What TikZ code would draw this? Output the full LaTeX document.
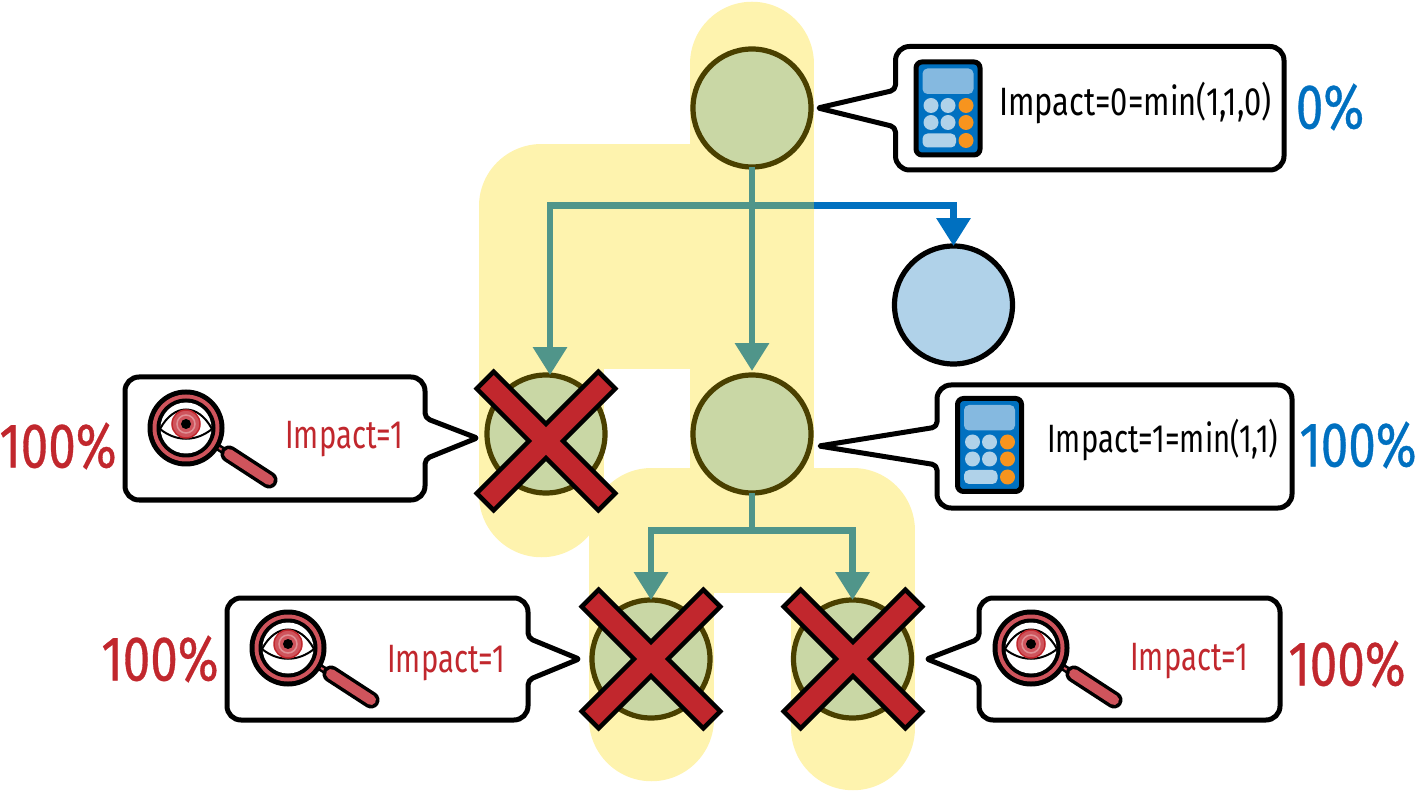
\documentclass[tikz,border=0pt]{standalone}
\usepackage{fontspec}
\setmainfont{Fira Sans}[FakeStretch=0.78]
\newfontfamily\narrowfont{Fira Sans}[FakeStretch=0.74]
\newfontfamily\sharefont{Fira Sans}[FakeStretch=0.78,FakeBold=0.5]
\usepackage{tikz}
\usetikzlibrary{arrows.meta}

\def\px{0.02cm}
\definecolor{hlyellow}{HTML}{FEF3AE}
\definecolor{nodegreen}{HTML}{C9D7A5}
\definecolor{nodeedge}{HTML}{4A4000}
\definecolor{nodeblue}{HTML}{B0D2E9}
\definecolor{linkteal}{HTML}{50958A}
\definecolor{linkblue}{HTML}{0070C0}
\definecolor{crossred}{HTML}{C1272D}
\definecolor{lensred}{HTML}{CF545C}
\definecolor{screenblue}{HTML}{85B9E0}
\definecolor{keyorange}{HTML}{F7941E}

\tikzset{
	hl/.style={draw=hlyellow, line width=124.5*\px, line cap=round, line join=round}
	,g/.style={circle, draw=nodeedge, fill=nodegreen, line width=5.2*\px, minimum size=118*\px, inner sep=0pt, outer sep=0pt}
	,u/.style={g, draw=black, fill=nodeblue}
	,link/.style={draw=linkteal, line width=6.5*\px, -{Triangle[length=0.56cm,width=0.66cm]}}
	,bluelink/.style={link, draw=linkblue, -{Triangle[length=0.56cm,width=0.66cm,fill=linkblue]}}
	,bubble/.style={draw=black, fill=white, line width=5*\px, line join=round, rounded corners=14*\px}
	,impact/.style={anchor=base west, inner sep=0pt, font=\fontsize{22.5}{25}\selectfont}
	,impactone/.style={impact, font=\narrowfont\fontsize{22.5}{25}\selectfont}
	,share/.style={inner sep=0pt, font=\sharefont\fontsize{36}{39}\selectfont}
	,pics/xmark/.style={code={
		\draw[rotate=45, fill=crossred, draw=black, line width=4.5*\px, miter limit=4]
			(-86,-12) -- (-12,-12) -- (-12,-86) -- (12,-86) -- (12,-12) -- (86,-12)
			-- (86,12) -- (12,12) -- (12,86) -- (-12,86) -- (-12,12) -- (-86,12) -- cycle;
	}}
	,pics/calcicon/.style={code={
		\draw[fill=linkblue, draw=black, line width=5*\px, rounded corners=6*\px] (-32,-46.5) rectangle (32,46.5);
		\fill[screenblue, rounded corners=5*\px] (-25.5,-40) rectangle (25.5,-14.5);
		\foreach \cx in {-17,0}
			\foreach \cy in {-3,14}
				\fill[nodeblue] (\cx,\cy) circle (7.5);
		\foreach \cy in {-3,14,32}
			\fill[keyorange] (18,\cy) circle (7.5);
		\fill[nodeblue, rounded corners=5*\px] (-25.5,25) rectangle (8,39);
	}}
	,pics/lensicon/.style={code={
		\draw[line width=7*\px] (24,14) -- (41,25);
		\draw[lensred, line width=2*\px] (30,18) -- (41,25);
		\draw[line width=17*\px, line cap=round] (43,26) -- (83,52);
		\draw[lensred, line width=10*\px, line cap=round] (43,26) -- (83,52);
		\fill[black] (0,0) circle (38.5);
		\fill[lensred] (0,0) circle (33.5);
		\fill[black] (0,0) circle (29.5);
		\fill[white] (0,0) circle (25.5);
		\draw[line width=2*\px] (-26,1) .. controls (-12,-25) and (12,-25) .. (26,1);
		\draw[line width=2*\px] (-26,1) .. controls (-10,14) and (10,14) .. (26,1);
		\fill[lensred, draw=crossred, line width=1.5*\px] (0,-4) circle (14);
		\draw[white!35!lensred, line width=1.5*\px] (0,-4) circle (9);
		\fill[black] (0,-4) circle (5);
	}}
}

\begin{document}
\begin{tikzpicture}[x=0.02cm, y=-0.02cm]
	\useasboundingbox (0,0) rectangle (1416,793);

	% highlighted paths
	\draw[hl] (752,64) -- (752,530.5);
	\draw[hl] (752,206) -| (541.5,495);
	\fill[hlyellow] (541.5,206) rectangle (690,369);
	\draw[hl] (752,530.5) -| (651.5,719);
	\draw[hl] (752,530.5) -| (853,728);

	% tree
	\node [g] (root) at (752,108) {};
	\node [u] (clean) at (953.5,305) {};
	\node [g] (left) at (546,434) {};
	\node [g] (mid) at (752,434) {};
	\node [g] (lowl) at (651,659) {};
	\node [g] (lowr) at (852.5,659) {};

	\coordinate (turn) at (814,205.5);
	\coordinate (fork) at (752,530.5);
	\coordinate (lefttip) at (550,375);
	\coordinate (midtip) at (752,371);

	\draw[bluelink] (turn) -| (clean.north);
	\draw[link] (root.south) -- (midtip);
	\draw[link] (turn) -| (lefttip);
	\draw[link] (mid.south) -- (fork) -| (lowl.north);
	\draw[link] (fork) -| (lowr.north);

	% crosses
	\pic (xleft) at (546,441) {xmark};
	\pic (xlowl) at (651,659) {xmark};
	\pic (xlowr) at (853,659) {xmark};

	% callouts
	\draw[bubble] (895.5,46.5) -- (1284,46.5) -- (1284,170) -- (895.5,170) [rounded corners=5*\px] -- (895.5,127)
		[rounded corners=2*\px] -- (818,108) [rounded corners=5*\px] -- (895.5,90) [rounded corners=14*\px] -- cycle;
	\draw[bubble] (125,377) -- (425,377) [rounded corners=5*\px] -- (425,418)
		[rounded corners=2*\px] -- (477,438) [rounded corners=5*\px] -- (425,459) [rounded corners=14*\px] -- (425,500) -- (125,500) -- cycle;
	\draw[bubble] (937,385) -- (1292,385) -- (1292,508) -- (937,508) [rounded corners=5*\px] -- (937,465)
		[rounded corners=2*\px] -- (819,446) [rounded corners=5*\px] -- (937,427) [rounded corners=14*\px] -- cycle;
	\draw[bubble] (227,598) -- (528,598) [rounded corners=5*\px] -- (528,638)
		[rounded corners=2*\px] -- (579,659) [rounded corners=5*\px] -- (528,680) [rounded corners=14*\px] -- (528,720) -- (227,720) -- cycle;
	\draw[bubble] (979,598) -- (1280,598) -- (1280,720) -- (979,720) [rounded corners=5*\px] -- (979,680)
		[rounded corners=2*\px] -- (927,659) [rounded corners=5*\px] -- (979,639) [rounded corners=14*\px] -- cycle;

	% icons
	\pic (calctop) at (948,108.5) {calcicon};
	\pic (calcmid) at (989.5,445) {calcicon};
	\pic (lensleft) at (186,428) {lensicon};
	\pic (lenslowl) at (288,648) {lensicon};
	\pic (lenslowr) at (1031,648) {lensicon};

	% labels
	\node [impact] (ttop) at (999,116) {Impact=0=min(1,1,0)};
	\node [impactone] (tmid) at (1047,453) {Impact=1=min(1,1)};
	\node [impactone, text=crossred] (tleft) at (285,449) {Impact=1};
	\node [impactone, text=crossred] (tlowl) at (387,672) {Impact=1};
	\node [impactone, text=crossred] (tlowr) at (1130,670) {Impact=1};

	\node [share, text=linkblue] (ptop) at (1330,107) {0\%};
	\node [share, text=linkblue] (pmid) at (1358,445) {100\%};
	\node [share, text=crossred] (pleft) at (58,446) {100\%};
	\node [share, text=crossred] (plowl) at (160,659) {100\%};
	\node [share, text=crossred] (plowr) at (1347,664) {100\%};
\end{tikzpicture}
\end{document}
